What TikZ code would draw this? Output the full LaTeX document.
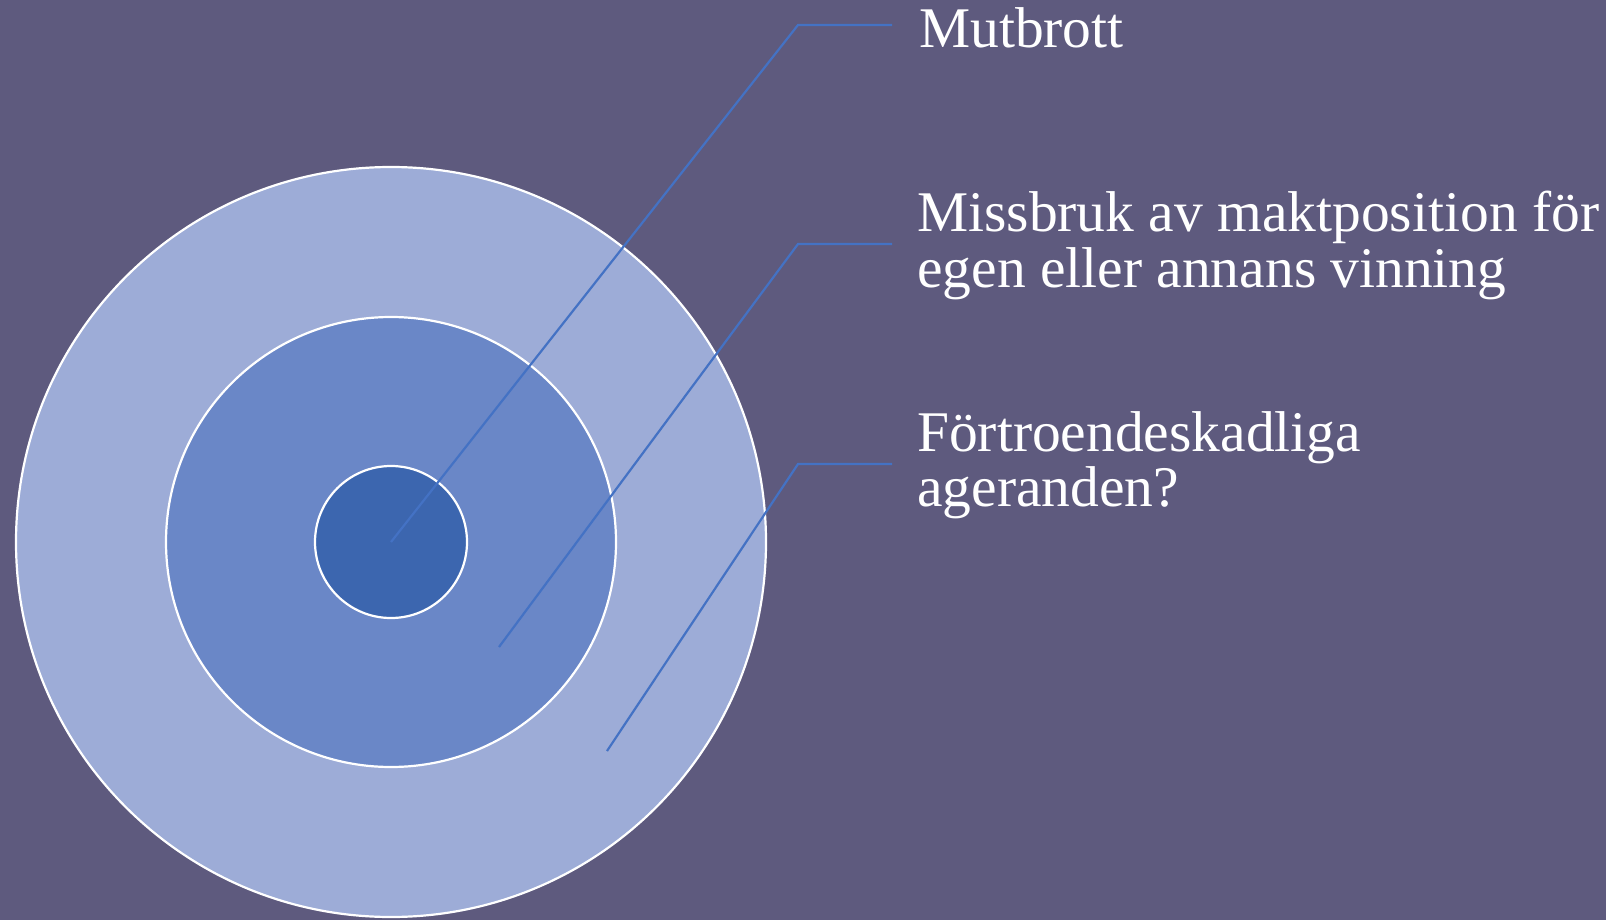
\documentclass[tikz,border=0pt]{standalone}
\usepackage{fontspec}
\setmainfont{Liberation Serif}
\definecolor{bg}{HTML}{5E5A7E}
\definecolor{ringA}{HTML}{9DACD7}
\definecolor{ringB}{HTML}{6A87C7}
\definecolor{ringC}{HTML}{3C66AF}
\definecolor{leader}{HTML}{4472C4}
\begin{document}
\begin{tikzpicture}[x=1pt,y=-1pt,
  ring/.style={circle, draw=white, line width=2.2pt, inner sep=0pt},
  leaderline/.style={draw=leader, line width=2.2pt},
  label/.style={anchor=base west, align=left, inner sep=0pt, text=white,
    font=\fontsize{57.5}{55}\selectfont}]
\useasboundingbox[fill=bg] (0,0) rectangle (1606,920);
\node[ring, fill=ringA, minimum size=750pt] (outer) at (391,542) {};
\node[ring, fill=ringB, minimum size=450pt] (middle) at (391,542) {};
\node[ring, fill=ringC, minimum size=152pt] (inner) at (391,542) {};
\coordinate (s2) at (499,647);
\coordinate (s3) at (607,751);
\coordinate (k1) at (798,25);
\coordinate (k2) at (798,244);
\coordinate (k3) at (798,464);
\coordinate (e1) at (892,25);
\coordinate (e2) at (892,244);
\coordinate (e3) at (892,464);
\draw[leaderline] (inner.center) -- (k1) -- (e1);
\draw[leaderline] (s2) -- (k2) -- (e2);
\draw[leaderline] (s3) -- (k3) -- (e3);
\node[label] (t1) at (919,48) {Mutbrott};
\node[label] (t2) at (917,287) {Missbruk av maktposition för\\egen eller annans vinning};
\node[label] (t3) at (917,506) {Förtroendeskadliga\\ageranden?};
\end{tikzpicture}
\end{document}
